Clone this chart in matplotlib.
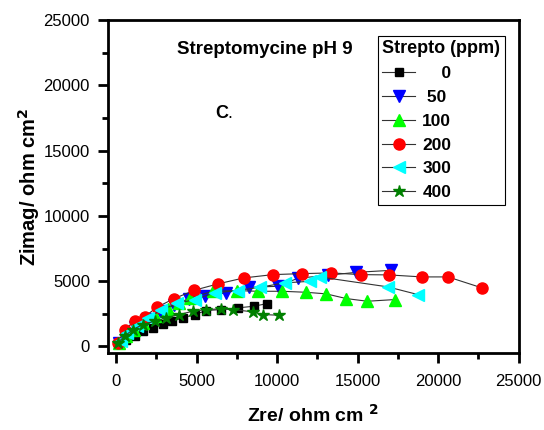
import numpy as np
import matplotlib.pyplot as plt
from matplotlib.ticker import MultipleLocator

plt.rcParams['font.family'] = ['Liberation Sans', 'DejaVu Sans']

# Nyquist data (Zre, Zimag in ohm cm2)
x0 = [217, 633, 1149, 1665, 2286, 2907, 3490, 4149, 4876, 5602, 6534, 7565, 8540, 9391]
y0 = [283, 535, 841, 1170, 1430, 1735, 1934, 2194, 2446, 2752, 2829, 2958, 3081, 3287]

x50 = [200, 600, 1200, 1900, 2700, 3600, 4500, 5497, 6844, 8248, 10050, 11300, 13155, 14918, 17093]
y50 = [300, 900, 1500, 2100, 2700, 3200, 3600, 3846, 4105, 4534, 4610, 5230, 5451, 5680, 5833]

x100 = [200, 600, 1100, 1700, 2400, 3200, 3900, 4565, 6012, 7503, 8807, 10323, 11813, 13055, 14297, 15601, 17298]
y100 = [250, 800, 1300, 1800, 2300, 2900, 3300, 3723, 4228, 4281, 4228, 4228, 4151, 4028, 3670, 3465, 3593]

x200 = [112, 528, 1149, 1770, 2534, 3571, 4850, 6323, 7938, 9739, 11540, 13366, 15186, 16944, 18993, 20608, 22720]
y200 = [280, 1300, 1934, 2270, 3005, 3647, 4304, 4793, 5252, 5504, 5580, 5634, 5504, 5481, 5328, 5328, 4488]

x300 = [300, 700, 1300, 2000, 2800, 3800, 4876, 6118, 7565, 8913, 10466, 12018, 12639, 16882, 18745]
y300 = [400, 1000, 1600, 2200, 2800, 3300, 3593, 4105, 4281, 4534, 4870, 4992, 5327, 4564, 3975]

x400 = [112, 528, 1043, 1665, 2391, 3118, 3900, 4770, 5602, 6534, 7255, 8497, 9140, 10112]
y400 = [283, 787, 1300, 1682, 1934, 2194, 2446, 2700, 2829, 2882, 2829, 2653, 2446, 2393]

fig = plt.figure(figsize=(5.44, 4.30), dpi=100)
ax = fig.add_axes([0.1985, 0.179, 0.755, 0.7745])

lc = '#333333'
ax.plot(x0, y0, '-', color=lc, lw=0.8, marker='s', ms=6, mfc='black', mec='black', label='    0')
ax.plot(x50, y50, '-', color=lc, lw=0.8, marker='v', ms=8, mfc='#0000ff', mec='#0000ff', label=' 50')
ax.plot(x100, y100, '-', color=lc, lw=0.8, marker='^', ms=8, mfc='#00ff00', mec='#00ff00', label='100')
ax.plot(x200, y200, '-', color=lc, lw=0.8, marker='o', ms=8, mfc='#ff0000', mec='#ff0000', label='200')
ax.plot(x300, y300, '-', color=lc, lw=0.8, marker='<', ms=8, mfc='#00ffff', mec='#00ffff', label='300')
ax.plot(x400, y400, '-', color=lc, lw=0.8, marker='*', ms=9, mfc='#008000', mec='#008000', label='400')

ax.set_xlim(-500, 25000)
ax.set_ylim(-500, 25000)
ax.xaxis.set_major_locator(MultipleLocator(5000))
ax.xaxis.set_minor_locator(MultipleLocator(2500))
ax.yaxis.set_major_locator(MultipleLocator(5000))
ax.yaxis.set_minor_locator(MultipleLocator(2500))
ax.tick_params(which='major', direction='out', length=7, width=2, labelsize=12)
ax.tick_params(axis='x', which='major', pad=8)
ax.tick_params(axis='y', which='major', pad=6)
ax.tick_params(which='minor', direction='out', length=4, width=2)
for s in ax.spines.values():
    s.set_linewidth(2)

ax.set_xlabel('Zre/ ohm cm $^{\\mathbf{2}}$', fontsize=14, fontweight='bold', labelpad=11)
ax.set_ylabel('Zimag/ ohm cm$^{\\mathbf{2}}$', fontsize=14.5, fontweight='bold', labelpad=1)

ax.text(0.167, 0.898, 'Streptomycine pH 9', transform=ax.transAxes, fontsize=13.5, fontweight='bold')
ax.text(0.26, 0.707, 'C', transform=ax.transAxes, fontsize=13, fontweight='bold')
ax.text(0.29, 0.707, '.', transform=ax.transAxes, fontsize=13)

leg = ax.legend(title='Strepto (ppm)', loc='upper right', bbox_to_anchor=(0.966, 0.952),
                borderaxespad=0, fancybox=False, edgecolor='black', framealpha=1,
                borderpad=0.25, handlelength=1.9, handletextpad=0.4, labelspacing=0.5,
                prop={'weight': 'bold', 'size': 12.5})
leg.get_title().set_fontweight('bold')
leg.get_title().set_fontsize(13)
leg._legend_box.align = 'left'
leg.get_frame().set_linewidth(0.8)

fig.savefig('out.png', dpi=100)
